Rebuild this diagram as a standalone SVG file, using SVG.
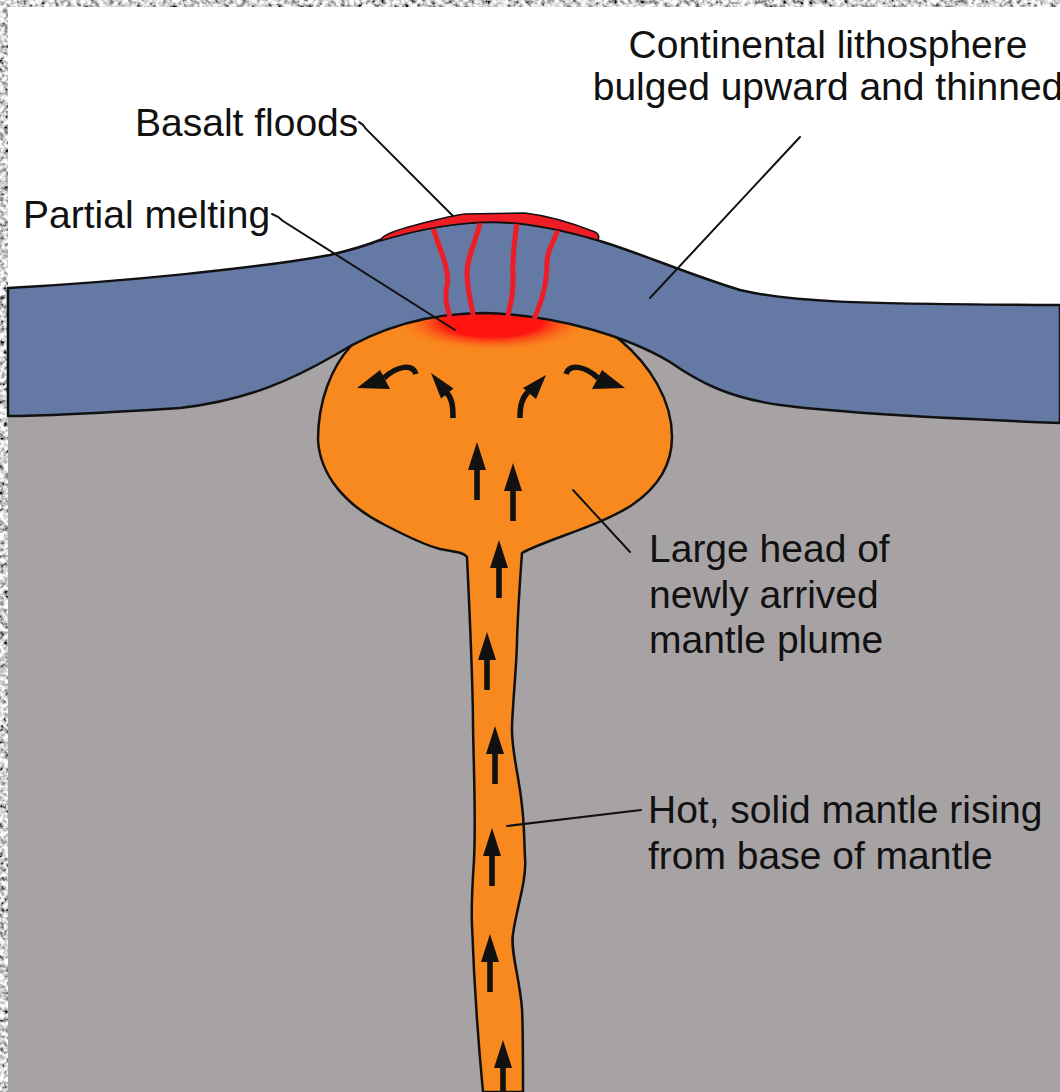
<svg xmlns="http://www.w3.org/2000/svg" xmlns:xlink="http://www.w3.org/1999/xlink" width="1060" height="1092" viewBox="0 0 1060 1092">
  <defs>
    <style>
      .lbl { font-family: "Liberation Sans", Arial, Helvetica, sans-serif; font-size: 39px; fill: #111; }
      .lead { fill: none; stroke: #111; stroke-width: 2; stroke-linecap: round; }
      .stem { fill: none; stroke: #111; stroke-width: 5.5; stroke-linecap: butt; }
      .head { fill: #111; }
      .dyke { fill: none; stroke: #ee1c24; stroke-width: 5; stroke-linecap: round; }
    </style>
    <filter id="stone" x="0" y="0" width="1060" height="1092" filterUnits="userSpaceOnUse">
      <feTurbulence type="fractalNoise" baseFrequency="0.22" numOctaves="3" seed="7" result="n"/>
      <feColorMatrix in="n" type="matrix" values="2.2 0 0 0 -0.45  2.2 0 0 0 -0.45  2.2 0 0 0 -0.45  0 0 0 0 1" result="g"/>
      <feComposite in="g" in2="SourceAlpha" operator="in"/>
    </filter>
    <radialGradient id="glow" cx="0.5" cy="0.5" r="0.5">
      <stop offset="0" stop-color="#ff1410" stop-opacity="1"/>
      <stop offset="0.5" stop-color="#ff1410" stop-opacity="1"/>
      <stop offset="1" stop-color="#f8891e" stop-opacity="0"/>
    </radialGradient>
    <!-- straight upward arrow, tip at origin -->
    <path id="up" d="M0,0 L9,28 L2.8,28 L2.8,58 L-2.8,58 L-2.8,28 L-9,28 Z" fill="#111"/>
  </defs>

  <!-- speckled frame on top and left -->
  <g id="frame" filter="url(#stone)">
    <rect x="0" y="0" width="1060" height="7" fill="#000"/>
    <rect x="0" y="0" width="8" height="1092" fill="#000"/>
  </g>

  <!-- sky and mantle -->
  <rect id="sky" x="8" y="7" width="1052" height="1085" fill="#ffffff"/>
  <rect id="mantle" x="8" y="330" width="1052" height="762" fill="#a7a3a5"/>

  <!-- mantle plume: head and tail -->
  <g id="plume">
    <path d="M 467 557
             C 470 620, 473 690, 473 726
             C 474 780, 476 820, 474 860
             C 472 890, 471 905, 472 925
             C 474 980, 478 1040, 483 1092
             L 523 1092
             C 523 1050, 523 1025, 522 1009
             C 520 980, 510 950, 513 934
             C 516 910, 527 880, 525 858
             C 524 835, 524 820, 522 806
             C 519 775, 511 750, 512 726
             C 513 700, 517 660, 517 640
             C 518 610, 520 580, 522 553
             C 545 540, 600 526, 632 505
             C 660 486, 672 462, 672 437
             C 672 400, 650 365, 620 340
             C 590 315, 540 298, 490 298
             C 430 298, 375 318, 350 347
             C 332 367, 318 400, 318 440
             C 320 475, 345 505, 385 525
             C 410 538, 428 546, 440 549
             C 455 552, 463 552, 467 557 Z"
          fill="#f8891e" stroke="#111" stroke-width="2.5" stroke-linejoin="round"/>
    <ellipse cx="493" cy="322" rx="98" ry="30" fill="url(#glow)"/>
  </g>

  <!-- continental lithosphere -->
  <g id="lithosphere">
    <path d="M 8 288
             C 120 282, 260 268, 330 255
             C 355 249, 370 244, 380 240
             C 420 228, 460 222, 493 222
             C 530 222, 570 232, 597 240
             C 640 253, 690 275, 740 290
             C 790 302, 850 304, 1060 305
             L 1060 423
             C 960 419, 840 413, 780 405
             C 730 398, 700 383, 670 362
             C 630 338, 560 315, 485 313
             C 420 313, 370 333, 335 355
             C 295 378, 250 400, 180 408
             C 100 413, 40 416, 8 416 Z"
          fill="#6579a5" stroke="#111" stroke-width="2.5" stroke-linejoin="round"/>
  </g>

  <!-- feeder dykes and flood basalt -->
  <g id="dykes">
    <path class="dyke" d="M 433 228 C 440 250, 450 270, 447 285 C 444 300, 448 310, 450 317"/>
    <path class="dyke" d="M 480 222 C 477 240, 466 258, 467 275 C 468 295, 472 305, 473 315"/>
    <path class="dyke" d="M 517 222 C 515 240, 512 255, 513 275 C 514 295, 510 305, 508 315"/>
    <path class="dyke" d="M 558 229 C 555 240, 547 250, 547 262 C 547 285, 542 300, 535 317"/>
  </g>
  <g id="basalt">
    <path d="M 380 241
             C 382 234, 400 229, 427 222
             C 445 218, 455 215, 465 214
             L 525 213
             C 550 216, 575 224, 595 232
             C 599 234, 600 238, 597 240
             C 570 232, 530 222, 493 222
             C 460 222, 420 229, 380 241 Z"
          fill="#ee1c24" stroke="#111" stroke-width="1.5" stroke-linejoin="round"/>
  </g>

  <!-- flow arrows inside the plume -->
  <g id="flow">
    <path class="stem" d="M 416 374 C 413 364, 398 365, 384 378"/>
    <polygon class="head" points="357,388 380,370 390,389"/>
    <path class="stem" d="M 566 374 C 569 364, 584 365, 598 378"/>
    <polygon class="head" points="625,388 602,370 592,389"/>
    <path class="stem" d="M 453 418 C 453 405, 452 398, 446 392"/>
    <polygon class="head" points="431,373 453.5,388.5 441,398.5"/>
    <path class="stem" d="M 520 418 C 520 405, 522 398, 528 392"/>
    <polygon class="head" points="546,375 536,399 523,388"/>
    <use xlink:href="#up" href="#up" x="477" y="442"/>
    <use xlink:href="#up" href="#up" x="513" y="463"/>
    <use xlink:href="#up" href="#up" x="499" y="540"/>
    <use xlink:href="#up" href="#up" x="487" y="632"/>
    <use xlink:href="#up" href="#up" x="495" y="726"/>
    <use xlink:href="#up" href="#up" x="492" y="828"/>
    <use xlink:href="#up" href="#up" x="490" y="934"/>
    <use xlink:href="#up" href="#up" x="503" y="1040"/>
  </g>

  <!-- leader lines -->
  <g id="connectors">
    <path class="lead" d="M 359 122 Q 363 124, 366 129 L 453 216"/>
    <path class="lead" d="M 272 214 Q 278 216, 283 221 L 455 330"/>
    <path class="lead" d="M 800 137 L 650 298"/>
    <path class="lead" d="M 573 490 L 630 552"/>
    <path class="lead" d="M 507 826 L 641 810"/>
  </g>

  <!-- labels -->
  <g id="label-basalt"><text class="lbl" x="135" y="136">Basalt floods</text></g>
  <g id="label-melting"><text class="lbl" x="23" y="228">Partial melting</text></g>
  <g id="label-lithosphere">
    <text class="lbl" x="828" y="58" text-anchor="middle">Continental lithosphere</text>
    <text class="lbl" x="828" y="100" text-anchor="middle">bulged upward and thinned</text>
  </g>
  <g id="label-head">
    <text class="lbl" x="649" y="562">Large head of</text>
    <text class="lbl" x="649" y="608">newly arrived</text>
    <text class="lbl" x="649" y="653">mantle plume</text>
  </g>
  <g id="label-tail">
    <text class="lbl" x="648" y="823">Hot, solid mantle rising</text>
    <text class="lbl" x="648" y="869">from base of mantle</text>
  </g>
</svg>
